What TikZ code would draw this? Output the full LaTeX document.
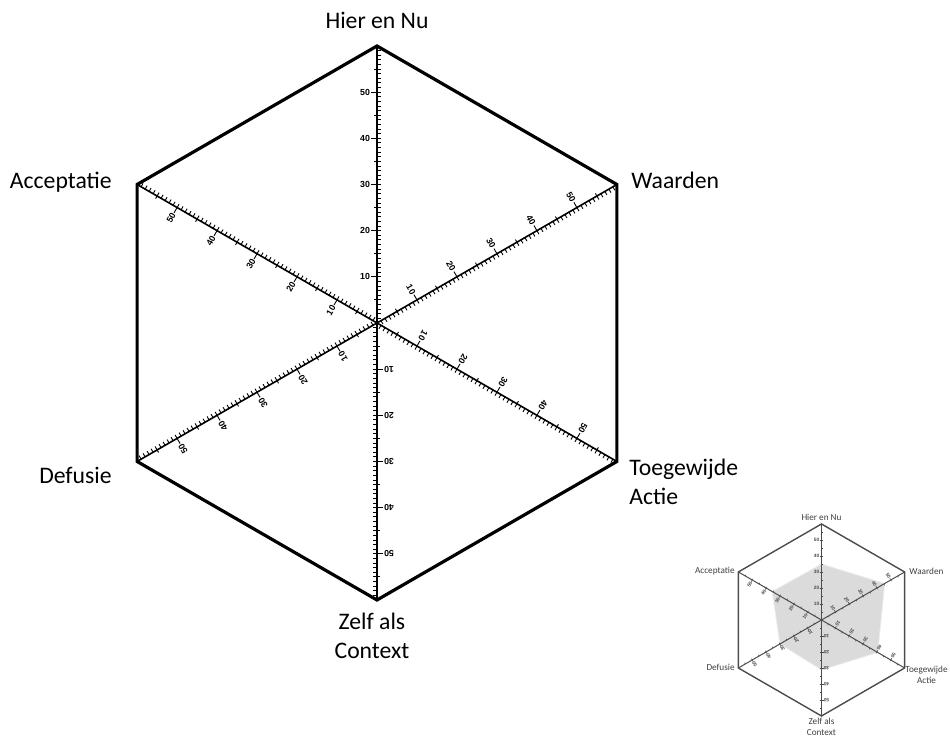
\documentclass[tikz,border=0pt]{standalone}
\usepackage{fontspec}
\setmainfont{Carlito}
\newfontfamily\numfont{Liberation Sans}
\usetikzlibrary{positioning,calc}

\begin{document}
\begin{tikzpicture}
  [
    x=0.5pt, y=0.5pt,
    Hex/.style={draw=black, line width=1.6pt, line join=miter},
    Axis/.style={draw=black, line width=0.8pt},
    Tick/.style={draw=black, line width=0.45pt},
    TickNum/.style={font=\numfont\bfseries\fontsize{4.4}{5}\selectfont, inner sep=0pt},
    Corner/.style={font=\fontsize{11.85}{14.2}\selectfont, inner sep=0pt, align=center},
    MiniHex/.style={draw=black!70, line width=0.7pt, line join=miter},
    MiniAxis/.style={draw=black!70, line width=0.5pt},
    MiniTick/.style={draw=black!70, line width=0.3pt},
    MiniNum/.style={font=\numfont\bfseries\fontsize{2.4}{2.6}\selectfont, text=black!70, inner sep=0pt},
    MiniText/.style={font=\fontsize{4.6}{5.5}\selectfont, text=black!75, inner sep=0pt, align=center},
    Shade/.style={fill=black!14, draw=black!7, line width=0.4pt}
  ]
  \useasboundingbox (0,0) rectangle (950,737);
  % Nodes
  \coordinate (O) at (377,414);
  \foreach \a/\n in {90/hn, 30/wa, -30/ta, -90/zc, -150/de, 150/ac}
    \coordinate (\n) at ($(O)+(\a:277)$);
  \node[Corner] (hnl) at (377,717) {Hier en Nu};
  \node[Corner, anchor=west] (wal) at (631,557) {Waarden};
  \node[Corner, anchor=west, align=left] (tal) at (629,255) {Toegewijde\\Actie};
  \node[Corner] (zcl) at (372,101) {Zelf als\\Context};
  \node[Corner, anchor=east] (del) at (112,262) {Defusie};
  \node[Corner, anchor=east] (acl) at (112,555) {Acceptatie};
  % Scales
  \foreach \a/\n in {90/hn, 30/wa, -30/ta, -90/zc, -150/de, 150/ac}{
    \begin{scope}[shift={(O)}, rotate=\a-90]
      \foreach \k in {1,...,59} \draw[Tick] (0,\k*4.6167) -- ++(4,0);
      \foreach \k in {5,15,...,55} \draw[Tick] (-3,\k*4.6167) -- ++(3,0);
      \foreach \k in {10,20,...,50}{
        \draw[Tick] (-6,\k*4.6167) -- ++(6,0);
        \node[TickNum, rotate=\a-90] (\n\k) at (-12,\k*4.6167) {\k};
      }
    \end{scope}
  }
  % Lines
  \foreach \n in {hn, wa, ta, zc, de, ac} \draw[Axis] (O) -- (\n);
  \draw[Hex] (hn) -- (wa) -- (ta) -- (zc) -- (de) -- (ac) -- cycle;

  % Small chart
  \coordinate (P) at (821.5,117);
  \foreach \a/\n in {90/phn, 30/pwa, -30/pta, -90/pzc, -150/pde, 150/pac}
    \coordinate (\n) at ($(P)+(\a:96)$);
  \fill[Shade] ($(P)+(90:56)$) -- ($(P)+(30:73)$) -- ($(P)+(-30:65)$)
    -- ($(P)+(-90:50)$) -- ($(P)+(-150:48)$) -- ($(P)+(150:57)$) -- cycle;
  \foreach \a/\n in {90/phn, 30/pwa, -30/pta, -90/pzc, -150/pde, 150/pac}{
    \begin{scope}[shift={(P)}, rotate=\a-90]
      \foreach \k in {5,15,...,55} \draw[MiniTick] (0,\k*1.6) -- ++(1.5,0);
      \foreach \k in {10,20,...,50}{
        \draw[MiniTick] (-2,\k*1.6) -- ++(3.5,0);
        \node[MiniNum, rotate=\a-90] (\n\k) at (-5,\k*1.6) {\k};
      }
    \end{scope}
  }
  \foreach \n in {phn, pwa, pta, pzc, pde, pac} \draw[MiniAxis] (P) -- (\n);
  \draw[MiniHex] (phn) -- (pwa) -- (pta) -- (pzc) -- (pde) -- (pac) -- cycle;
  \node[MiniText, anchor=south] (phnl) at (821.5,216) {Hier en Nu};
  \node[MiniText, anchor=west] (pwal) at (909,166) {Waarden};
  \node[MiniText, anchor=north west] (ptal) at (905,71) {Toegewijde\\Actie};
  \node[MiniText, anchor=north] (pzcl) at (821.5,19) {Zelf als\\Context};
  \node[MiniText, anchor=east] (pdel) at (735,70) {Defusie};
  \node[MiniText, anchor=east] (pacl) at (735,166) {Acceptatie};
\end{tikzpicture}
\end{document}
